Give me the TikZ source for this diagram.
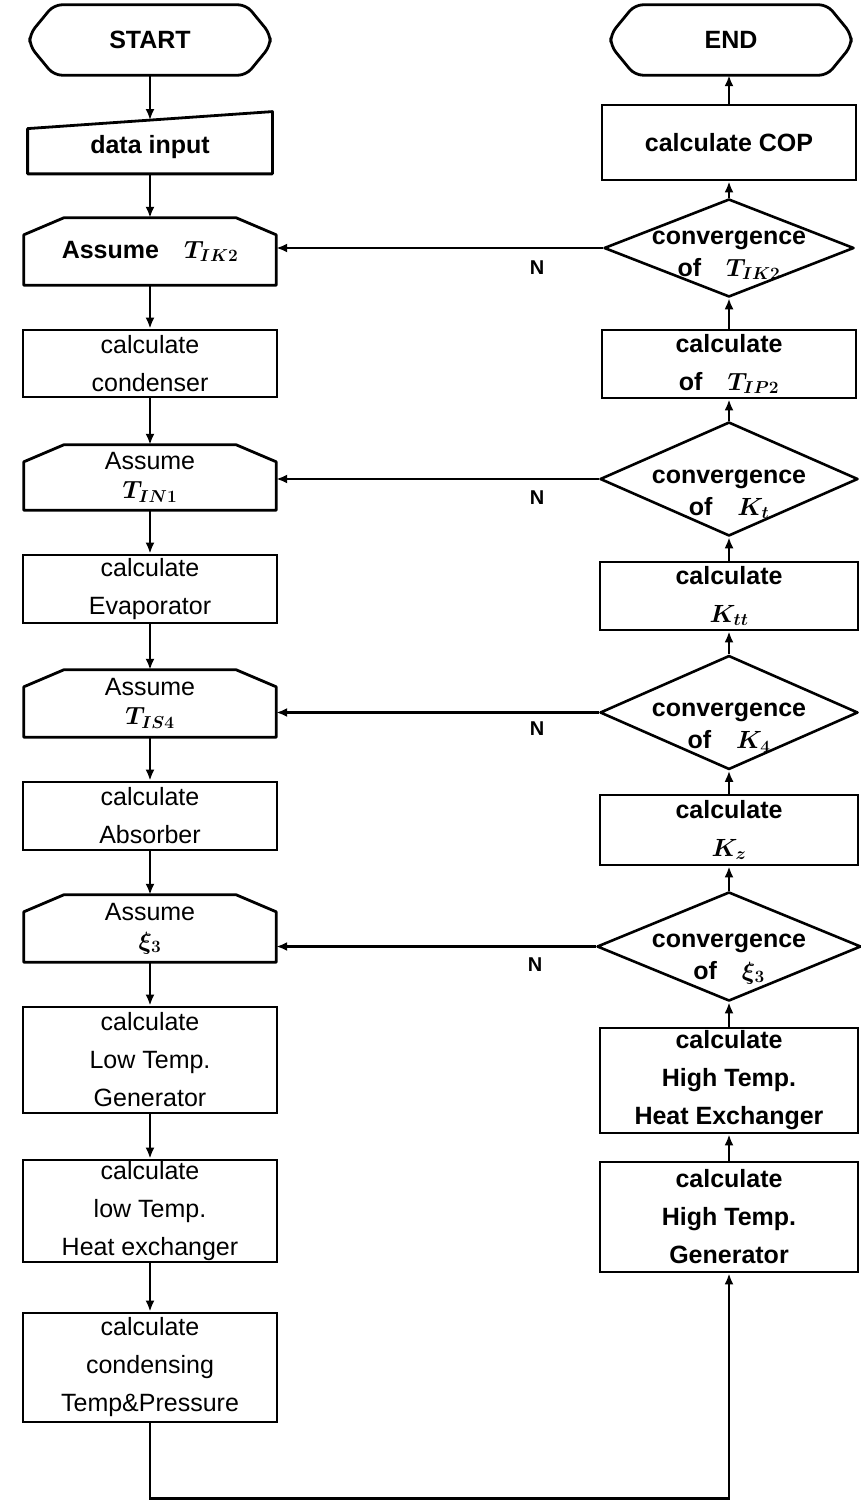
\documentclass[tikz,border=0pt]{standalone}
\usepackage{fontspec}
\setmainfont{Liberation Sans}
\usetikzlibrary{positioning, arrows.meta, shapes.geometric, calc}

\newcommand{\flowfont}{\fontsize{25}{38}\selectfont\boldmath}
\newcommand{\flowbold}{\fontsize{25}{38}\selectfont\bfseries\boldmath}
\newcommand{\assumefont}{\fontsize{25}{29}\selectfont\boldmath}
\newcommand{\decisionfont}{\fontsize{25}{32}\selectfont\bfseries\boldmath}
\newcommand{\convtop}[1]{\rule{0pt}{#1}}

\begin{document}
\begin{tikzpicture}[
    x=1pt, y=-1pt,
    terminal/.style={rectangle, minimum width=240pt, minimum height=70pt, inner sep=0pt, font=\flowbold},
    process/.style={rectangle, draw, line width=2.8pt, minimum width=254pt, inner sep=0pt, align=center, font=\flowfont},
    assume/.style={rectangle, minimum width=252pt, minimum height=67pt, inner sep=0pt, align=center, font=\assumefont},
    decision/.style={diamond, draw, line width=2.6pt, line join=round, minimum width=258pt, minimum height=108pt, inner xsep=-30pt, inner ysep=-30pt, align=center, font=\decisionfont},
    border/.style={line width=2.8pt, line join=round},
    arrow/.style={-{Latex[length=11pt, width=9pt]}, line width=2.2pt},
    label/.style={font=\fontsize{20}{24}\selectfont\bfseries}
]
\useasboundingbox (0,0) rectangle (861,1506);

% ============ LEFT COLUMN ============
\node[terminal] (start) at (150, 40) {START};

% Data input (manual input shape)
\node[process, draw=none, minimum width=242pt, minimum height=51pt, font=\flowbold] (input) at (150, 147) {data input};
\draw[border] (input.south west) -- ([yshift=-8.5pt]input.north west) -- ([yshift=8.5pt]input.north east) -- (input.south east) -- cycle;

\node[assume, font=\assumefont\bfseries] (assume1) at (150, 251.5) {Assume\quad $T_{IK2}$};
\node[process, minimum height=67pt] (condenser) at (150, 363.5) {calculate\\condenser};
\node[assume, minimum height=65pt] (assume2) at (150, 477.5) {Assume\\$T_{IN1}$};
\node[process, minimum height=68pt] (evaporator) at (150, 589) {calculate\\Evaporator};
\node[assume] (assume3) at (150, 703.5) {Assume\\$T_{IS4}$};
\node[process, minimum height=68pt] (absorber) at (150, 816) {calculate\\Absorber};
\node[assume] (assume4) at (150, 928.5) {Assume\\$\xi_{3}$};
\node[process, minimum height=106pt] (ltgen) at (150, 1060) {calculate\\Low Temp.\\Generator};
\node[process, minimum height=102pt] (lthex) at (150, 1211) {calculate\\low Temp.\\Heat exchanger};
\node[process, minimum height=109pt] (condensing) at (150, 1367.5) {calculate\\condensing\\Temp\&Pressure};

% ============ RIGHT COLUMN ============
\node[terminal] (finish) at (731, 40) {END};
\node[process, minimum height=75pt, font=\flowbold] (cop) at (729, 142.5) {calculate COP};
\node[decision, minimum width=250pt, minimum height=88pt] (conv1) at (729, 248) {\convtop{28pt}convergence\\of\quad $T_{IK2}$};
\node[process, minimum height=68pt, font=\flowbold] (calcT) at (729, 364) {calculate\\of\quad $T_{IP2}$};
\node[decision] (conv2) at (729, 479) {\convtop{44pt}convergence\\of\quad $K_{t}$};
\node[process, minimum height=68pt, minimum width=258pt, font=\flowbold] (calcKtt) at (729, 596) {calculate\\$K_{tt}$};
\node[decision] (conv3) at (729, 712.5) {\convtop{44pt}convergence\\of\quad $K_{4}$};
\node[process, minimum height=70pt, minimum width=258pt, font=\flowbold] (calcKz) at (729, 830) {calculate\\$K_{z}$};
\node[decision, minimum width=264pt, minimum height=107pt] (conv4) at (729, 946.5) {\convtop{38pt}convergence\\of\quad $\xi_{3}$};
\node[process, minimum height=105pt, minimum width=258pt, font=\flowbold] (hthex) at (729, 1080.5) {calculate\\High Temp.\\Heat Exchanger};
\node[process, minimum height=110pt, minimum width=258pt, font=\flowbold] (htgen) at (729, 1217) {calculate\\High Temp.\\Generator};

% Terminal outlines
\foreach \term in {start, finish}
  \draw[border, rounded corners=8pt] ([xshift=24pt]\term.north west) -- ([xshift=-24pt]\term.north east)
    -- ([yshift=6pt]\term.east) -- ([yshift=-6pt]\term.east) -- ([xshift=-24pt]\term.south east)
    -- ([xshift=24pt]\term.south west) -- ([yshift=-6pt]\term.west) -- ([yshift=6pt]\term.west) -- cycle;

% Assumption outlines (top corners cut)
\foreach \asm in {assume1, assume2, assume3, assume4}
  \draw[border] ([yshift=-17pt]\asm.north west) -- ([xshift=40pt]\asm.north west) -- ([xshift=-40pt]\asm.north east)
    -- ([yshift=-17pt]\asm.north east) -- (\asm.south east) -- (\asm.south west) -- cycle;

% Labels for the N branches
\node[label] (n1) at (537, 268) {N};
\node[label] (n2) at (537, 498) {N};
\node[label] (n3) at (537, 729) {N};
\node[label] (n4) at (535, 965) {N};

% Arrows (left column, downwards)
\draw[arrow] (start) -- (input);
\draw[arrow] (input) -- (assume1);
\draw[arrow] (assume1) -- (condenser);
\draw[arrow] (condenser) -- (assume2);
\draw[arrow] (assume2) -- (evaporator);
\draw[arrow] (evaporator) -- (assume3);
\draw[arrow] (assume3) -- (absorber);
\draw[arrow] (absorber) -- (assume4);
\draw[arrow] (assume4) -- (ltgen);
\draw[arrow] (ltgen) -- (lthex);
\draw[arrow] (lthex) -- (condensing);

% Arrows (right column, upwards)
\draw[arrow] (htgen) -- (hthex);
\draw[arrow] (hthex) -- (conv4);
\draw[arrow] (conv4) -- (calcKz);
\draw[arrow] (calcKz) -- (conv3);
\draw[arrow] (conv3) -- (calcKtt);
\draw[arrow] (calcKtt) -- (conv2);
\draw[arrow] (conv2) -- (calcT);
\draw[arrow] (calcT) -- (conv1);
\draw[arrow] (conv1) -- (cop);
\draw[arrow] (cop.north) -- (cop.north |- finish.south);

% N branches back to the assumptions
\draw[arrow] (conv1.west) -- (conv1.west -| assume1.east);
\draw[arrow] (conv2.west) -- (conv2.west -| assume2.east);
\draw[arrow] (conv3.west) -- (conv3.west -| assume3.east);
\draw[arrow] (conv4.west) -- (conv4.west -| assume4.east);

% Loop from the bottom of the left column
\draw[arrow] (condensing.south) -- ++(0, 75) -| (htgen.south);

\end{tikzpicture}
\end{document}
